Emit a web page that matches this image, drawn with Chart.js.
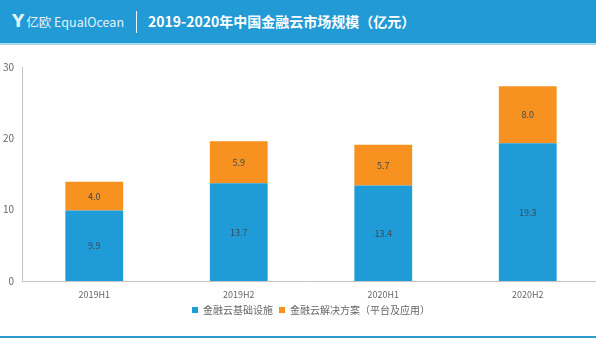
<!DOCTYPE html>
<html>
<head>
<meta charset="utf-8">
<script src="https://cdn.jsdelivr.net/npm/chart.js@4.4.1/dist/chart.umd.min.js"></script>
<style>
  html, body { margin: 0; padding: 0; }
  body { width: 596px; height: 346px; overflow: hidden; position: relative; background: #fff;
         font-family: "Noto Sans CJK SC", "Noto Sans", sans-serif; }
  #banner { position: absolute; left: 0; top: 0; width: 596px; height: 43px; background: #219ad6;
            border-bottom: 2px solid #a8d9f0; }
  #logo { position: absolute; left: 12px; top: 11px; color: #e3f3fb; font-size: 12.5px; line-height: 20px; }
  #logo b { font-size: 17px; font-family: "DejaVu Sans", sans-serif; margin-right: 2px; }
  #sep { position: absolute; left: 136px; top: 11px; width: 1px; height: 22px; background: #e8f5fc; }
  #title { position: absolute; left: 148px; top: 10px; color: #fff; font-size: 14px; font-weight: bold; line-height: 22px; }
  #footer { position: absolute; left: 0; top: 336px; width: 596px; height: 2px; background: #2f9bd0; }
  #wrap { position: absolute; left: 0; top: 50px; width: 600px; height: 275px; }
</style>
</head>
<body>
<div id="banner">
  <div id="logo"><b>Y</b>亿欧 EqualOcean</div>
  <div id="sep"></div>
  <div id="title">2019-2020年中国金融云市场规模（亿元）</div>
</div>
<div id="wrap"><canvas id="chart"></canvas></div>
<div id="footer"></div>
<script>
// 半年度金融云市场规模（亿元）
const periods = ["2019H1", "2019H2", "2020H1", "2020H2"];
const infra = [9.9, 13.7, 13.4, 19.3];
const solutions = [4.0, 5.9, 5.7, 8.0];
const yTicks = [0, 10, 20, 30];

const axisFont = { size: 9, family: "'Noto Sans CJK SC', sans-serif" };

// 在每个柱段中间写数值
const segmentLabels = {
  id: "segmentLabels",
  afterDatasetsDraw(chart) {
    const ctx = chart.ctx;
    ctx.save();
    ctx.font = "9px 'Noto Sans CJK SC', sans-serif";
    ctx.fillStyle = "#3d4a55";
    ctx.textAlign = "center";
    ctx.textBaseline = "middle";
    chart.data.datasets.forEach(function (ds, i) {
      chart.getDatasetMeta(i).data.forEach(function (bar, j) {
        const mid = (bar.y + bar.base) / 2;
        ctx.fillText(ds.data[j].toFixed(1), bar.x, mid);
      });
    });
    ctx.restore();
  }
};

new Chart(document.getElementById("chart"), {
  type: "bar",
  data: {
    labels: periods,
    datasets: [
      { label: "金融云基础设施", data: infra, backgroundColor: "#1f9bd7" },
      { label: "金融云解决方案（平台及应用）", data: solutions, backgroundColor: "#f7911f" }
    ]
  },
  options: {
    responsive: true,
    maintainAspectRatio: false,
    animation: false,
    layout: { padding: { top: 17, bottom: 0 } },
    datasets: { bar: { barPercentage: 0.4, categoryPercentage: 1.0 } },
    scales: {
      x: {
        stacked: true,
        grid: { display: false },
        border: { color: "#c4c4c4" },
        ticks: { color: "#666", font: axisFont, padding: 0 },
        afterFit: function (scale) { scale.height = 18; }
      },
      y: {
        stacked: true,
        min: 0,
        max: 30,
        afterBuildTicks: function (scale) { scale.ticks = yTicks.map(v => ({ value: v })); },
        grid: { display: false, drawTicks: false },
        border: { color: "#c4c4c4" },
        ticks: { color: "#666", font: { size: 10, family: "'Noto Sans CJK SC', sans-serif" }, padding: 8 },
        afterFit: function (scale) { scale.width = 22; }
      }
    },
    plugins: {
      legend: {
        position: "bottom",
        fullSize: false,
        labels: {
          boxWidth: 6,
          boxHeight: 6,
          padding: 6,
          color: "#666",
          font: { size: 10, family: "'Noto Sans CJK SC', sans-serif" },
          generateLabels: function (chart) {
            const items = Chart.defaults.plugins.legend.labels.generateLabels(chart);
            items.forEach(function (it) { it.lineWidth = 0; });
            return items;
          }
        }
      },
      tooltip: { enabled: false }
    }
  },
  plugins: [segmentLabels]
});
</script>
</body>
</html>
